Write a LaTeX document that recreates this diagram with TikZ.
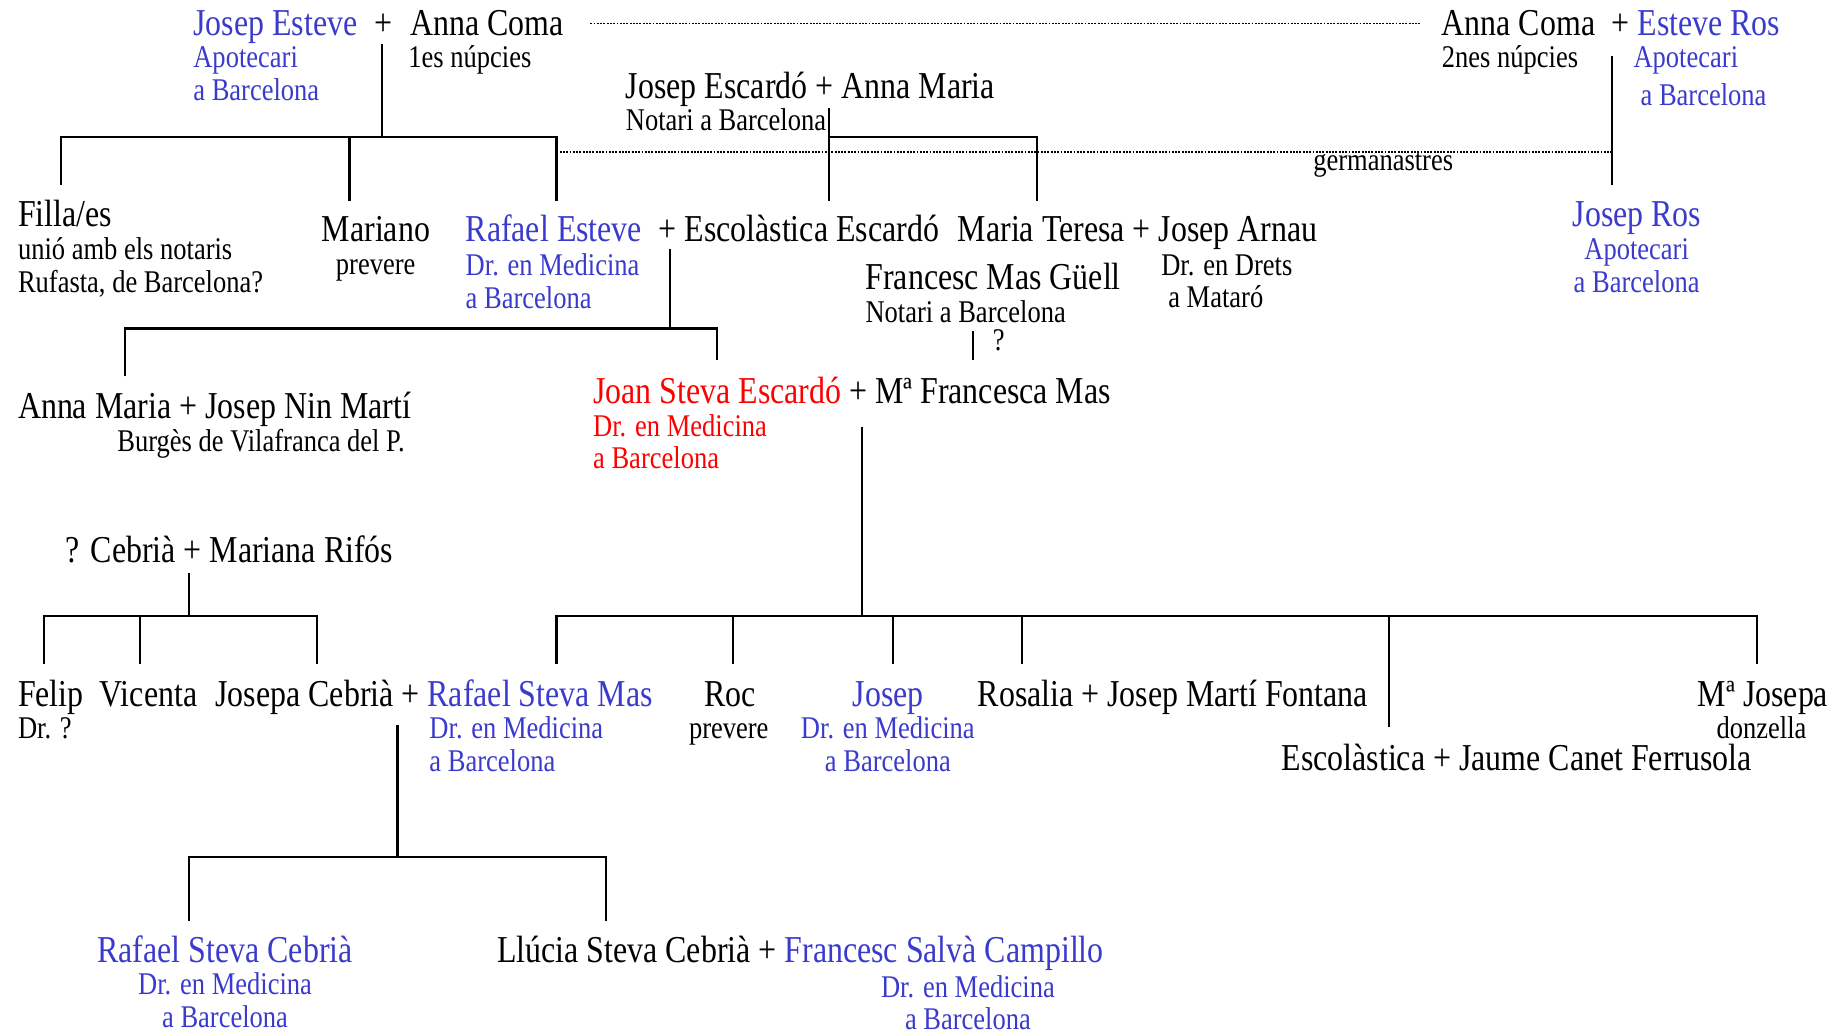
\documentclass[tikz,border=0pt]{standalone}
\usepackage{fontspec}
\setmainfont[FakeStretch=0.84]{Liberation Serif}
\definecolor{apblue}{RGB}{58,58,205}
\definecolor{drred}{RGB}{255,0,0}
\newcommand{\bl}[1]{\textcolor{apblue}{#1}}
\newcommand{\rd}[1]{\textcolor{drred}{#1}}

\begin{document}
\begin{tikzpicture}[x=0.5pt,y=-0.5pt,
  person/.style={anchor=base west,inner sep=0pt,font=\fontsize{16.25}{18}\selectfont},
  note/.style={anchor=base west,inner sep=0pt,align=left,font=\fontsize{13.5}{14}\selectfont},
  cnote/.style={note,anchor=base,align=center},
  tree/.style={line width=0.9pt},
  halfsib/.style={line width=0.6pt,dash pattern=on 0.8pt off 0.6pt}]
\useasboundingbox (0,0) rectangle (1568,886);

% first marriages
\node[person] (je) at (165,30) {\bl{Josep Esteve}\hspace{7.5pt}+\hspace{7.5pt}Anna Coma};
\node[note,text=apblue] (jeN) at (165,86) {Apotecari\\a Barcelona};
\node[note] (acN) at (349,58) {1es núpcies};
\node[person] (ac) at (1233,30) {Anna Coma\hspace{7pt}+ \bl{Esteve Ros}};
\node[note] (ac2N) at (1233,58) {2nes núpcies};
\node[note,text=apblue] (erN) at (1397,58) {Apotecari};
\node[note,text=apblue] (erN2) at (1403,90) {a Barcelona};
\node[person] (jes) at (535,84) {Josep Escardó + Anna Maria};
\node[note] (jesN) at (535,112) {Notari a Barcelona};
\node[note] (germ) at (1123,146) {germanastres};

% second generation
\node[person] (filla) at (15,194) {Filla/es};
\node[note] (fillaN) at (15,250) {unió amb els notaris\\Rufasta, de Barcelona?};
\node[person] (mariano) at (275,207) {Mariano};
\node[note] (marianoN) at (287,235) {prevere};
\node[person] (rafe) at (398,207) {\bl{Rafael Esteve}};
\node[note,text=apblue] (rafeN) at (398,264) {Dr. en Medicina\\a Barcelona};
\node[person] (escol) at (563,207) {+ Escolàstica Escardó};
\node[person] (mt) at (819,207) {Maria Teresa + Josep Arnau};
\node[note] (mtN) at (993,236) {Dr. en Drets};
\node[note] (mtN2) at (999,263) {a Mataró};
\node[person] (fmg) at (740,248) {Francesc Mas Güell};
\node[note] (fmgN) at (740,276) {Notari a Barcelona};
\node[person] (jros) at (1345,194) {\bl{Josep Ros}};
\node[cnote,text=apblue] (jrosN) at (1400,250) {Apotecari\\a Barcelona};
\node[note] (unk) at (849,300) {?};

% third generation
\node[person] (amn) at (15,358) {Anna Maria + Josep Nin Martí};
\node[note] (amnN) at (100,386) {Burgès de Vilafranca del P.};
\node[person] (jse) at (507,345) {\rd{Joan Steva Escardó} + Mª Francesca Mas};
\node[note,text=drred] (jseN) at (507,401) {Dr. en Medicina\\a Barcelona};
\node[person] (cr) at (56,481) {? Cebrià + Mariana Rifós};

% fourth generation
\node[person] (felip) at (15,604) {Felip};
\node[note] (felipN) at (15,632) {Dr. ?};
\node[person] (vicenta) at (85,604) {Vicenta};
\node[person] (josepa) at (184,604) {Josepa Cebrià + \bl{Rafael Steva Mas}};
\node[note,text=apblue] (rsmN) at (367,660) {Dr. en Medicina\\a Barcelona};
\node[person] (roc) at (602,604) {Roc};
\node[note] (rocN) at (589,632) {prevere};
\node[person] (josep) at (729,604) {\bl{Josep}};
\node[cnote,text=apblue] (josepN) at (759.5,660) {Dr. en Medicina\\a Barcelona};
\node[person] (rosalia) at (836,604) {Rosalia + Josep Martí Fontana};
\node[person] (escol2) at (1096,659) {Escolàstica + Jaume Canet Ferrusola};
\node[person] (mjosepa) at (1452,604) {Mª Josepa};
\node[note] (mjosepaN) at (1468,632) {donzella};

% fifth generation
\node[person] (rsc) at (83,823) {\bl{Rafael Steva Cebrià}};
\node[cnote,text=apblue] (rscN) at (192.5,879) {Dr. en Medicina\\a Barcelona};
\node[person] (lsc) at (425,823) {Llúcia Steva Cebrià + \bl{Francesc Salvà Campillo}};
\node[cnote,text=apblue] (fscN) at (828,881) {Dr. en Medicina\\a Barcelona};

% Esteve - Coma
\coordinate (a0) at (327,38);
\coordinate (a1) at (327,117);
\coordinate (aF) at (52,158);
\coordinate (aM) at (299,172);
\coordinate (aR) at (476,172);
\draw[tree] (a0) -- (a1);
\draw[tree] (aF) |- (a1) -| (aR);
\draw[tree] (aM) -- (aM |- a1);

% Escardo
\coordinate (b0) at (709,92);
\coordinate (bE) at (709,172);
\coordinate (bT) at (887,172);
\draw[tree] (b0) -- (bE);
\draw[tree] (b0 |- a1) -| (bT);

% Ros
\coordinate (r0) at (1379,48);
\coordinate (r1) at (1379,158);
\draw[tree] (r0) -- (r1);

% half brothers and second marriage
\coordinate (h0) at (505,20);
\coordinate (h1) at (1215,20);
\coordinate (g0) at (476,130);
\draw[halfsib] (h0) -- (h1);
\draw[halfsib] (g0) -- (g0 -| r0);

% Esteve - Escardo
\coordinate (c0) at (573,213);
\coordinate (c1) at (573,281);
\coordinate (cA) at (107,322);
\coordinate (cJ) at (613,308);
\draw[tree] (c0) -- (c1);
\draw[tree] (cA) |- (c1) -| (cJ);

% Mas Guell
\coordinate (m0) at (832,283);
\coordinate (m1) at (832,308);
\draw[tree] (m0) -- (m1);

% Steva - Mas
\coordinate (d0) at (737,365);
\coordinate (d1) at (737,527);
\coordinate (dR) at (476,568);
\coordinate (dRoc) at (627,568);
\coordinate (dJosep) at (764,568);
\coordinate (dRosalia) at (874,568);
\coordinate (dEscol) at (1188,622);
\coordinate (dMJ) at (1503,568);
\draw[tree] (d0) -- (d1);
\draw[tree] (dR) |- (d1) -| (dMJ);
\foreach \k in {dRoc,dJosep,dRosalia,dEscol}
  \draw[tree] (\k) -- (\k |- d1);

% Cebria - Rifos
\coordinate (e0) at (162,490);
\coordinate (e1) at (162,527);
\coordinate (eF) at (38,568);
\coordinate (eV) at (120,568);
\coordinate (eJ) at (271,568);
\draw[tree] (e0) -- (e1);
\draw[tree] (eF) |- (e1) -| (eJ);
\draw[tree] (eV) -- (eV |- e1);

% Steva - Cebria
\coordinate (f0) at (340,620);
\coordinate (f1) at (340,733);
\coordinate (fR) at (162,788);
\coordinate (fL) at (518,788);
\draw[tree] (f0) -- (f1);
\draw[tree] (fR) |- (f1) -| (fL);
\end{tikzpicture}
\end{document}
